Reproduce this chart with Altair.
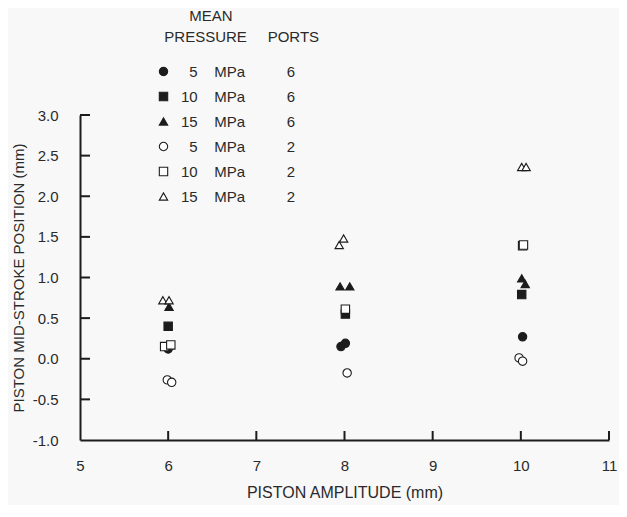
import altair as alt
import pandas as pd

# ---- data ----
NB = "\u00a0"
ZW = "\u200b"
series_order = ["f5", "f10", "f15", "o5", "o10", "o15"]
pressures = ["5", "10", "15", "5", "10", "15"]
ports = ["6", "6", "6", "2", "2", "2"]
series_labels = [
    ZW + (NB * 2 if len(p) == 1 else "") + p + NB * 4 + "MPa" + NB * 10 + q
    for p, q in zip(pressures, ports)
]
series_shapes = ["circle", "square", "triangle-up", "circle", "square", "triangle-up"]
series_fills = ["#1c1c1c", "#1c1c1c", "#1c1c1c", "white", "white", "white"]
series_strokes = ["#1c1c1c"] * 6

# 6 ports, 5 MPa (filled circle)
f5_x = [6.00, 7.96, 8.01, 10.02]
f5_y = [0.12, 0.15, 0.19, 0.27]
# 6 ports, 10 MPa (filled square)
f10_x = [6.00, 8.01, 10.01]
f10_y = [0.40, 0.55, 0.79]
# 6 ports, 15 MPa (filled triangle)
f15_x = [6.01, 7.95, 8.06, 10.01, 10.05]
f15_y = [0.64, 0.89, 0.89, 0.99, 0.92]
# 2 ports, 5 MPa (open circle)
o5_x = [5.99, 6.04, 8.03, 9.98, 10.02]
o5_y = [-0.26, -0.29, -0.175, 0.01, -0.03]
# 2 ports, 10 MPa (open square)
o10_x = [5.96, 6.03, 8.01, 10.02, 10.03]
o10_y = [0.15, 0.17, 0.61, 1.39, 1.40]
# 2 ports, 15 MPa (open triangle)
o15_x = [5.94, 6.01, 7.94, 7.99, 10.01, 10.06]
o15_y = [0.72, 0.72, 1.40, 1.48, 2.36, 2.36]

x_ticks = [6, 7, 8, 9, 10, 11]
y_ticks = [-0.5, 0.0, 0.5, 1.0, 1.5, 2.0, 2.5, 3.0]

rows = []
for key, xs, ys in [("f5", f5_x, f5_y), ("f10", f10_x, f10_y), ("f15", f15_x, f15_y),
                    ("o5", o5_x, o5_y), ("o10", o10_x, o10_y), ("o15", o15_x, o15_y)]:
    i = series_order.index(key)
    for xv, yv in zip(xs, ys):
        rows.append({"amp": xv, "pos": yv, "series": series_labels[i], "ord": i})
df = pd.DataFrame(rows)

FONT = "Liberation Sans"
INK = "#1c1c1c"
TXT = "#2a2a2a"
W, H = 529, 325

xscale = alt.Scale(domain=[5, 11], nice=False, zero=False)
yscale = alt.Scale(domain=[-1, 3], nice=False, zero=False)

legend_title = [ZW + NB * 8 + "MEAN", ZW + NB * 2 + "PRESSURE" + NB * 5 + "PORTS"]


def make_legend():
    return alt.Legend(
        title=legend_title,
        orient="none", legendX=76, legendY=-106,
        titleFont=FONT, titleFontSize=15, titleFontWeight="normal",
        titleColor=TXT, titleLineHeight=21, titlePadding=19,
        labelFont=FONT, labelFontSize=15, labelColor=TXT,
        labelOffset=10, rowPadding=9, symbolSize=70, symbolStrokeWidth=1.1,
    )


points = alt.Chart(df).mark_point(filled=True, strokeWidth=1.1, opacity=1).encode(
    x=alt.X("amp:Q", scale=xscale,
            axis=alt.Axis(title="PISTON AMPLITUDE (mm)", values=[5, 6, 7, 8, 9, 10, 11],
                          format="d", tickSize=0, labelPadding=18, titlePadding=11,
                          labelFontSize=15, titleFontSize=16, labelFont=FONT, titleFont=FONT,
                          titleFontWeight="normal", domainColor=INK, domainWidth=2,
                          labelColor=TXT, titleColor=TXT, grid=False, labelFlush=False)),
    y=alt.Y("pos:Q", scale=yscale,
            axis=alt.Axis(title="PISTON MID-STROKE POSITION (mm)",
                          values=[-1.0, -0.5, 0.0, 0.5, 1.0, 1.5, 2.0, 2.5, 3.0],
                          format=".1f", labelExpr="replace(datum.label, '\u2212', '-')",
                          tickSize=0, labelPadding=22, titlePadding=6,
                          labelFontSize=15, titleFontSize=15, labelFont=FONT, titleFont=FONT,
                          titleFontWeight="normal", domainColor=INK, domainWidth=2,
                          labelColor=TXT, titleColor=TXT, grid=False, labelFlush=False)),
    shape=alt.Shape("series:N", scale=alt.Scale(domain=series_labels, range=series_shapes),
                    legend=make_legend()),
    fill=alt.Fill("series:N", scale=alt.Scale(domain=series_labels, range=series_fills),
                  legend=make_legend()),
    stroke=alt.Stroke("series:N", scale=alt.Scale(domain=series_labels, range=series_strokes),
                      legend=make_legend()),
    order=alt.Order("ord:Q"),
    size=alt.value(70),
)

ytick_df = pd.DataFrame({"v": y_ticks})
xtick_df = pd.DataFrame({"v": x_ticks})

yticks = alt.Chart(ytick_df).mark_rule(color=INK, strokeWidth=2).encode(
    y=alt.Y("v:Q", scale=yscale), x=alt.value(0), x2=alt.value(10))
xticks = alt.Chart(xtick_df).mark_rule(color=INK, strokeWidth=2).encode(
    x=alt.X("v:Q", scale=xscale), y=alt.value(H), y2=alt.value(H - 9))

chart = alt.layer(yticks, xticks, points).properties(
    width=W, height=H, background="#f8f8f8",
    autosize=alt.AutoSizeParams(type="none"),
    padding={"left": 72, "top": 107, "right": 10, "bottom": 65},
).configure_view(stroke=None)

chart.save("out.html", embed_options={"renderer": "svg", "actions": False})
